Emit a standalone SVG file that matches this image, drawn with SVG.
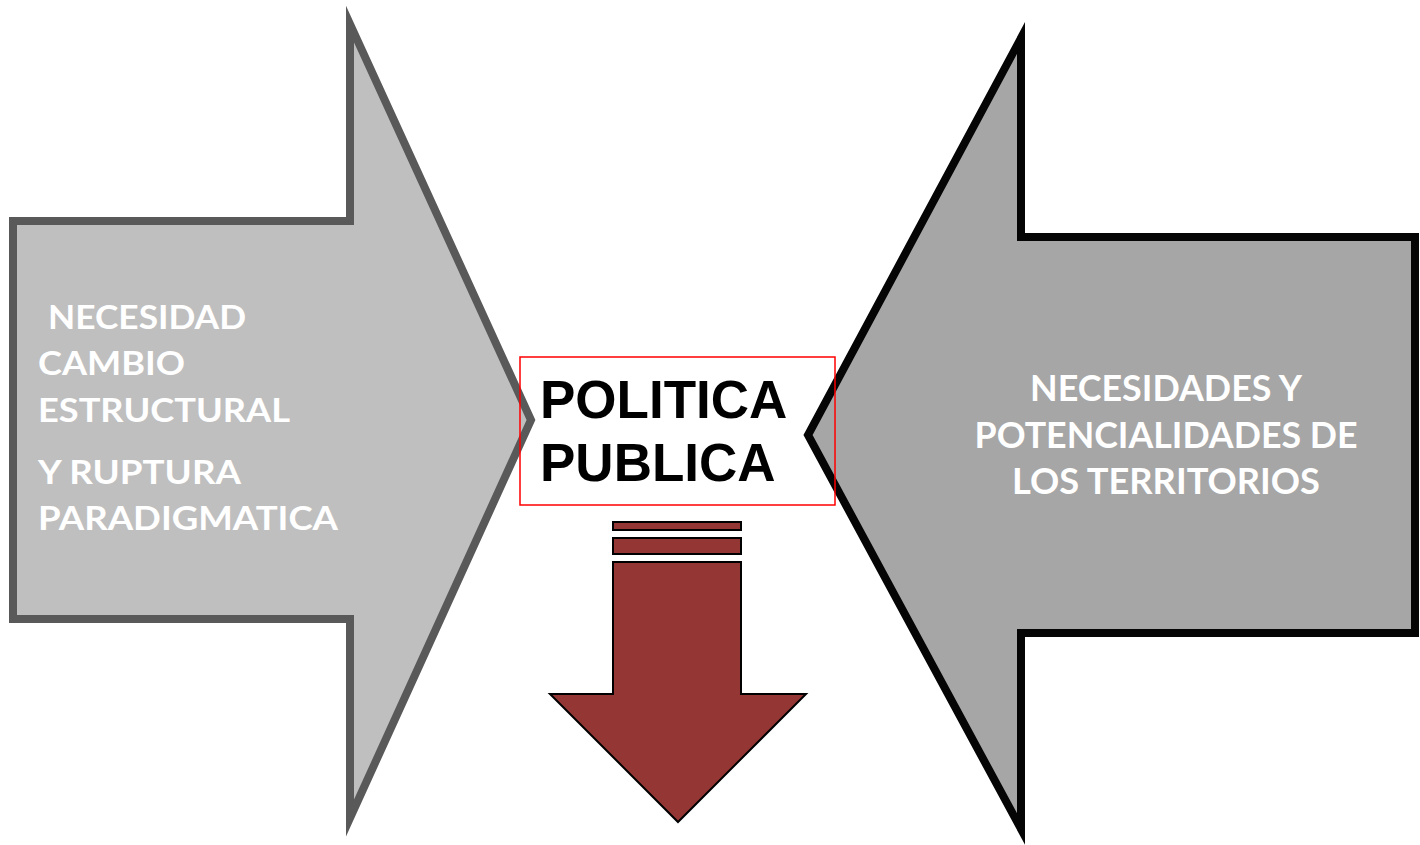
<svg xmlns="http://www.w3.org/2000/svg" width="1420" height="845" viewBox="0 0 1420 845">
<style>
.lt{font-family:Lato,"Open Sans","Liberation Sans",sans-serif;font-weight:bold;fill:#ffffff;font-size:33px}
.rt{font-family:Lato,"Open Sans","Liberation Sans",sans-serif;font-weight:bold;fill:#ffffff;font-size:37px;text-anchor:middle}
.ct{font-family:"Liberation Sans",Arial,sans-serif;font-weight:bold;fill:#000000;font-size:53px}
.dn{fill:#943634;stroke:#000000;stroke-width:2}
</style>
<rect width="1420" height="845" fill="#ffffff"/>
<rect id="politica-bg" x="520" y="357" width="315" height="148" fill="#ffffff"/>
<g id="left-arrow">
<polygon points="13,221 350,221 350,24 531,420 350,818 350,619 13,619" fill="#bfbfbf" stroke="#595959" stroke-width="8" stroke-miterlimit="10"/>
<text class="lt" x="48" y="329" textLength="198" lengthAdjust="spacingAndGlyphs">NECESIDAD</text>
<text class="lt" x="38" y="375" textLength="147" lengthAdjust="spacingAndGlyphs">CAMBIO</text>
<text class="lt" x="38" y="422" textLength="252" lengthAdjust="spacingAndGlyphs">ESTRUCTURAL</text>
<text class="lt" x="38" y="484" textLength="203" lengthAdjust="spacingAndGlyphs">Y RUPTURA</text>
<text class="lt" x="38" y="530" textLength="300" lengthAdjust="spacingAndGlyphs">PARADIGMATICA</text>
</g>
<g id="right-arrow">
<polygon points="1415,237 1021,237 1021,38 808,435 1021,829 1021,633 1415,633" fill="#a6a6a6" stroke="#050505" stroke-width="8" stroke-miterlimit="10"/>
<text class="rt" x="1166" y="401" textLength="272" lengthAdjust="spacingAndGlyphs">NECESIDADES Y</text>
<text class="rt" x="1166" y="448" textLength="383" lengthAdjust="spacingAndGlyphs">POTENCIALIDADES DE</text>
<text class="rt" x="1166" y="494" textLength="308" lengthAdjust="spacingAndGlyphs">LOS TERRITORIOS</text>
</g>
<g id="politica-publica">
<rect x="520" y="357" width="315" height="148" fill="none" stroke="#ff0000" stroke-width="1.5"/>
<text class="ct" x="540" y="418">POLITICA</text>
<text class="ct" x="540" y="481">PUBLICA</text>
</g>
<g id="down-arrow">
<rect class="dn" x="613" y="522" width="128" height="8"/>
<rect class="dn" x="613" y="538" width="128" height="16"/>
<polygon class="dn" points="613,562 741,562 741,694 806,694 678,822 550,694 613,694"/>
</g>
</svg>
